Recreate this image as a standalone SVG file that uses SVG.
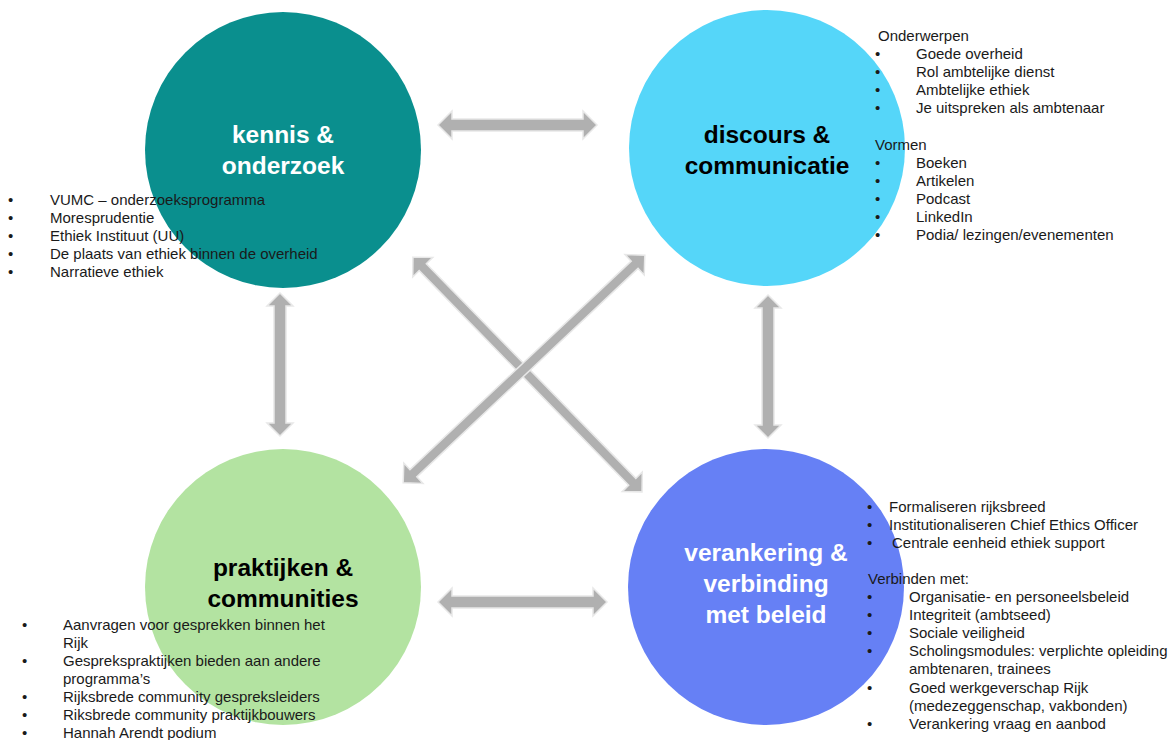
<svg xmlns="http://www.w3.org/2000/svg" width="1171" height="740" viewBox="0 0 1171 740">
<style>
.arrow{fill:#B0B0B0;stroke:#E8E8E8;stroke-width:1.5;stroke-linejoin:miter}
.title{font-family:"Liberation Sans",Arial,sans-serif;font-weight:bold;font-size:24.5px;text-anchor:middle}
.t{font-family:"Liberation Sans",Arial,sans-serif;font-size:15px;fill:#1a1a1a}
</style>
<rect width="1171" height="740" fill="#ffffff"/>
<g id="connectors">
<path class="arrow" d="M438,125 L452,111 L452,119 L583,119 L583,111 L597,125 L583,139 L583,131 L452,131 L452,139 Z"/>
<path class="arrow" d="M438,602 L452,588 L452,596 L593,596 L593,588 L607,602 L593,616 L593,608 L452,608 L452,616 Z"/>
<path class="arrow" d="M280,293 L293,306 L286,306 L286,423 L293,423 L280,436 L267,423 L274,423 L274,306 L267,306 Z"/>
<path class="arrow" d="M768,295 L781,308 L774,308 L774,425 L781,425 L768,438 L755,425 L762,425 L762,308 L755,308 Z"/>
<path class="arrow" transform="translate(527.5,374.5) rotate(45.7)" d="M-164,0 L-150,-14 L-150,-5 L150,-5 L150,-14 L164,0 L150,14 L150,5 L-150,5 L-150,14 Z"/>
<path class="arrow" transform="translate(524,369) rotate(136.7)" d="M-166,0 L-152,-14 L-152,-5 L152,-5 L152,-14 L166,0 L152,14 L152,5 L-152,5 L-152,14 Z"/>
</g>
<g id="kennis">
<circle cx="283" cy="150" r="138" fill="#0A8F8E"/>
<text class="title" fill="#ffffff" x="283" y="143">kennis &amp;</text>
<text class="title" fill="#ffffff" x="283" y="174">onderzoek</text>
</g>
<g id="discours">
<circle cx="767" cy="148" r="138" fill="#55D6F9"/>
<text class="title" fill="#000000" x="767" y="143">discours &amp;</text>
<text class="title" fill="#000000" x="767" y="174">communicatie</text>
</g>
<g id="praktijken">
<circle cx="283" cy="587" r="138" fill="#B3E3A1"/>
<text class="title" fill="#000000" x="283" y="576">praktijken &amp;</text>
<text class="title" fill="#000000" x="283" y="607">communities</text>
</g>
<g id="verankering">
<circle cx="766" cy="587" r="138" fill="#6680F5"/>
<text class="title" fill="#ffffff" x="766" y="561">verankering &amp;</text>
<text class="title" fill="#ffffff" x="766" y="592">verbinding</text>
<text class="title" fill="#ffffff" x="766" y="623">met beleid</text>
</g>
<g id="list-kennis" class="t">
<text x="8" y="205">•</text><text x="50" y="205">VUMC – onderzoeksprogramma</text>
<text x="8" y="223">•</text><text x="50" y="223">Moresprudentie</text>
<text x="8" y="241">•</text><text x="50" y="241">Ethiek Instituut (UU)</text>
<text x="8" y="259">•</text><text x="50" y="259">De plaats van ethiek binnen de overheid</text>
<text x="8" y="277">•</text><text x="50" y="277">Narratieve ethiek</text>
</g>
<g id="list-discours" class="t">
<text x="878" y="41">Onderwerpen</text>
<text x="875" y="59">•</text><text x="916" y="59">Goede overheid</text>
<text x="875" y="77">•</text><text x="916" y="77">Rol ambtelijke dienst</text>
<text x="875" y="95">•</text><text x="916" y="95">Ambtelijke ethiek</text>
<text x="875" y="113">•</text><text x="916" y="113">Je uitspreken als ambtenaar</text>
<text x="875" y="150">Vormen</text>
<text x="875" y="168">•</text><text x="916" y="168">Boeken</text>
<text x="875" y="186">•</text><text x="916" y="186">Artikelen</text>
<text x="875" y="204">•</text><text x="916" y="204">Podcast</text>
<text x="875" y="222">•</text><text x="916" y="222">LinkedIn</text>
<text x="875" y="240">•</text><text x="916" y="240">Podia/ lezingen/evenementen</text>
</g>
<g id="list-praktijken" class="t">
<text x="22" y="630">•</text><text x="63" y="630">Aanvragen voor gesprekken binnen het</text>
<text x="63" y="648">Rijk</text>
<text x="22" y="666">•</text><text x="63" y="666">Gesprekspraktijken bieden aan andere</text>
<text x="63" y="684">programma’s</text>
<text x="22" y="702">•</text><text x="63" y="702">Rijksbrede community gespreksleiders</text>
<text x="22" y="720">•</text><text x="63" y="720">Riksbrede community praktijkbouwers</text>
<text x="22" y="738">•</text><text x="63" y="738">Hannah Arendt podium</text>
</g>
<g id="list-verankering" class="t">
<text x="867" y="512">•</text><text x="889" y="512">Formaliseren rijksbreed</text>
<text x="867" y="530">•</text><text x="889" y="530">Institutionaliseren Chief Ethics Officer</text>
<text x="867" y="548">•</text><text x="892" y="548">Centrale eenheid ethiek support</text>
<text x="868" y="584">Verbinden met:</text>
<text x="867" y="602">•</text><text x="909" y="602">Organisatie- en personeelsbeleid</text>
<text x="867" y="620">•</text><text x="909" y="620">Integriteit (ambtseed)</text>
<text x="867" y="638">•</text><text x="909" y="638">Sociale veiligheid</text>
<text x="867" y="656">•</text><text x="909" y="656">Scholingsmodules: verplichte opleiding</text>
<text x="909" y="674">ambtenaren, trainees</text>
<text x="867" y="693">•</text><text x="909" y="693">Goed werkgeverschap Rijk</text>
<text x="909" y="711">(medezeggenschap, vakbonden)</text>
<text x="867" y="729">•</text><text x="909" y="729">Verankering vraag en aanbod</text>
</g>
</svg>
